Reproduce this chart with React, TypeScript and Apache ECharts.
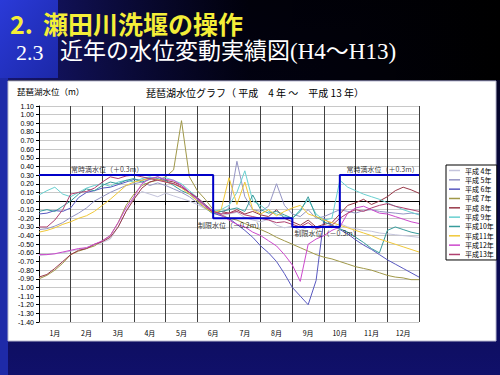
import React, { useEffect, useRef } from "react";
import * as echarts from "echarts";

const MONTH_LABELS = ["1月", "2月", "3月", "4月", "5月", "6月", "7月", "8月", "9月", "10月", "11月", "12月"];
const X_POS = [0, 0.25, 0.5, 0.75, 1, 1.25, 1.5, 1.75, 2, 2.25, 2.5, 2.75, 3, 3.25, 3.5, 3.75, 4, 4.25, 4.5, 4.75, 5, 5.25, 5.5, 5.75, 6, 6.25, 6.5, 6.75, 7, 7.25, 7.5, 7.75, 8, 8.25, 8.5, 8.75, 9, 9.25, 9.5, 9.75, 10, 10.25, 10.5, 10.75, 11, 11.25, 11.5, 11.75, 12];

const SERIES_NAMES = ["平成 4年", "平成 5年", "平成 6年", "平成 7年", "平成 8年", "平成 9年", "平成10年", "平成11年", "平成12年", "平成13年"];
const SERIES_COLORS = ["#c4c4dc", "#9494c4", "#5858c0", "#a09848", "#983848", "#68d0d0", "#389c9c", "#f0c838", "#cc48cc", "#b04070"];

const H4 = [-0.63, -0.62, -0.61, -0.60, -0.58, -0.56, -0.54, -0.51, -0.48, -0.44, -0.30, -0.12, 0.04, 0.11, 0.08, 0.05, 0.09, 0.06, 0.03, 0.00, -0.04, -0.09, -0.14, -0.17, -0.15, -0.13, -0.19, -0.22, -0.24, -0.21, -0.28, -0.31, -0.29, -0.34, -0.30, -0.33, -0.28, -0.31, -0.26, -0.30, -0.32, -0.34, -0.35, -0.37, -0.38, -0.39, -0.40, -0.41, -0.42];
const H5 = [-0.33, -0.32, -0.29, -0.25, -0.19, -0.14, -0.08, 0.00, 0.05, 0.10, 0.14, 0.18, 0.20, 0.22, 0.18, 0.21, 0.18, 0.14, 0.10, 0.05, -0.02, -0.08, -0.13, -0.15, -0.08, 0.46, 0.05, -0.10, -0.12, -0.06, 0.20, -0.05, -0.15, -0.18, -0.10, -0.20, -0.18, -0.14, -0.10, -0.12, -0.14, -0.11, -0.10, -0.12, -0.13, -0.14, -0.15, -0.14, -0.15];
const H6 = [-0.15, -0.14, -0.11, -0.12, -0.08, 0.04, 0.10, 0.12, 0.15, 0.16, 0.19, 0.22, 0.25, 0.24, 0.27, 0.26, 0.22, 0.20, 0.16, 0.10, 0.03, -0.05, -0.14, -0.17, -0.20, -0.27, -0.34, -0.42, -0.52, -0.60, -0.70, -0.84, -1.00, -1.10, -1.20, -0.92, -0.20, -0.28, -0.33, -0.38, -0.45, -0.51, -0.56, -0.62, -0.68, -0.73, -0.78, -0.83, -0.88];
const H7 = [-0.90, -0.86, -0.80, -0.72, -0.62, -0.58, -0.55, -0.52, -0.46, -0.40, -0.25, -0.05, 0.08, 0.18, 0.22, 0.24, 0.28, 0.36, 0.93, 0.28, 0.12, 0.02, -0.10, -0.16, -0.20, -0.22, -0.26, -0.30, -0.33, -0.37, -0.42, -0.46, -0.50, -0.54, -0.58, -0.62, -0.65, -0.67, -0.70, -0.73, -0.76, -0.78, -0.80, -0.83, -0.86, -0.88, -0.89, -0.91, -0.91];
const H8 = [-0.88, -0.85, -0.78, -0.70, -0.62, -0.57, -0.55, -0.50, -0.47, -0.42, -0.30, -0.12, 0.02, 0.15, 0.22, 0.25, 0.24, 0.22, 0.18, 0.10, 0.02, -0.06, -0.14, -0.12, -0.14, -0.10, -0.15, -0.12, -0.16, -0.18, -0.10, -0.20, -0.24, -0.28, -0.22, -0.30, -0.27, -0.25, -0.15, -0.05, -0.02, 0.02, -0.04, 0.00, 0.05, 0.12, 0.16, 0.13, 0.09];
const H9 = [0.07, 0.12, 0.16, 0.08, 0.05, 0.10, 0.15, 0.18, 0.20, 0.17, 0.22, 0.24, 0.22, 0.26, 0.28, 0.25, 0.27, 0.24, 0.20, 0.12, 0.04, -0.04, -0.12, -0.10, -0.05, 0.10, 0.35, 0.00, -0.05, -0.12, -0.15, -0.18, -0.20, -0.10, 0.02, -0.15, -0.22, -0.20, 0.24, 0.16, 0.12, 0.08, 0.05, 0.02, -0.02, -0.06, -0.10, -0.13, -0.16];
const H10 = [-0.12, -0.10, -0.12, -0.06, 0.00, 0.08, 0.14, 0.12, 0.18, 0.22, 0.20, 0.24, 0.26, 0.22, 0.25, 0.28, 0.24, 0.18, 0.12, 0.08, 0.00, -0.08, -0.15, -0.12, -0.10, -0.08, -0.12, 0.07, -0.10, -0.14, -0.12, -0.16, -0.20, -0.12, 0.05, -0.18, -0.24, -0.28, -0.32, -0.36, -0.42, -0.48, -0.55, -0.60, -0.34, -0.30, -0.33, -0.36, -0.38];
const H11 = [-0.36, -0.34, -0.31, -0.27, -0.24, -0.20, -0.17, -0.12, -0.05, 0.02, 0.10, 0.18, 0.22, 0.24, 0.26, 0.25, 0.22, 0.20, 0.15, 0.08, 0.00, -0.08, -0.14, -0.10, 0.27, -0.04, 0.22, -0.10, -0.15, -0.10, -0.17, -0.12, -0.08, -0.05, -0.15, -0.18, -0.22, -0.25, -0.28, -0.31, -0.34, -0.37, -0.40, -0.44, -0.47, -0.50, -0.53, -0.56, -0.59];
const H12 = [-0.62, -0.62, -0.61, -0.59, -0.57, -0.55, -0.54, -0.50, -0.46, -0.40, -0.25, -0.08, 0.05, 0.20, 0.26, 0.28, 0.25, 0.24, 0.18, 0.10, 0.02, -0.06, -0.12, -0.16, -0.22, -0.27, -0.30, -0.36, -0.40, -0.46, -0.52, -0.62, -0.74, -0.93, -0.50, -0.44, -0.40, -0.34, -0.30, -0.14, -0.08, -0.06, -0.10, -0.14, -0.15, -0.18, -0.21, -0.24, -0.26];
const H13 = [-0.30, -0.30, -0.22, -0.10, 0.08, 0.10, 0.11, 0.15, 0.22, 0.28, 0.26, 0.29, 0.30, 0.28, 0.26, 0.24, 0.22, 0.20, 0.16, 0.10, 0.04, -0.04, -0.12, -0.15, -0.14, -0.12, -0.16, -0.18, -0.20, -0.22, -0.25, -0.24, -0.27, -0.30, -0.25, -0.32, -0.30, -0.28, -0.20, -0.14, -0.10, -0.12, -0.08, -0.05, -0.03, -0.06, -0.08, -0.10, -0.12];
const SERIES_VALUES = [H4, H5, H6, H7, H8, H9, H10, H11, H12, H13];

const RULE_X = [0, 5.5, 5.5, 8, 8, 9.5, 9.5, 12];
const RULE_Y = [0.3, 0.3, -0.2, -0.2, -0.3, -0.3, 0.3, 0.3];

const NOTE_TEXT = ["常時満水位（＋0.3m）", "制限水位（－0.2m）", "制限水位（－0.3m）", "常時満水位（＋0.3m）"];
const NOTE_X = [2.15, 6.05, 9.1, 10.85];
const NOTE_Y = [0.3, -0.2, -0.3, 0.3];
const NOTE_POS = ["top", "bottom", "bottom", "top"];

const Y_TICK_LABEL = (v: number) => v.toFixed(2);

const JP = "'Noto Sans CJK JP', 'Noto Sans', sans-serif";

export default function App() {
  const ref = useRef<HTMLDivElement>(null);
  useEffect(() => {
    if (!ref.current) return;
    const chart = echarts.init(ref.current, undefined, { renderer: "svg" });
    const lineSeries = SERIES_NAMES.map((name, k) => ({
      name,
      type: "line",
      xAxisIndex: 0,
      yAxisIndex: 0,
      symbol: "none",
      color: SERIES_COLORS[k],
      lineStyle: { width: 1, color: SERIES_COLORS[k] },
      data: X_POS.map((x, i) => [x, SERIES_VALUES[k][i]]),
      z: 3,
    }));
    const option: any = {
      animation: false,
      textStyle: { fontFamily: JP },
      graphic: [
        {
          type: "rect",
          shape: { x: 0, y: 0, width: 500, height: 375 },
          style: {
            fill: new echarts.graphic.LinearGradient(0, 0, 0, 1, [
              { offset: 0, color: "#020210" },
              { offset: 0.5, color: "#080840" },
              { offset: 1, color: "#10106a" },
            ]),
          },
          z: -10,
        },
        {
          type: "rect",
          shape: { x: 0, y: 0, width: 500, height: 80 },
          style: {
            fill: new echarts.graphic.LinearGradient(0, 0, 1, 0, [
              { offset: 0, color: "rgba(24,24,120,0.95)" },
              { offset: 0.5, color: "rgba(0,0,8,0.7)" },
              { offset: 1, color: "rgba(0,0,0,1)" },
            ]),
          },
          z: -9,
        },
        {
          type: "rect",
          shape: { x: 0, y: 0, width: 58, height: 78 },
          style: {
            fill: new echarts.graphic.LinearGradient(0, 0, 1, 1, [
              { offset: 0, color: "#2a3ad8" },
              { offset: 1, color: "#1c28a8" },
            ]),
          },
          z: -8,
        },
        {
          type: "rect",
          shape: { x: 0, y: 78, width: 8, height: 297 },
          style: { fill: "#1e2aa8" },
          z: -8,
        },
        {
          type: "rect",
          shape: { x: 8, y: 81, width: 488, height: 260 },
          style: { fill: "#ffffff", stroke: "#b8b8d0", lineWidth: 1 },
          z: -5,
        },
        {
          type: "text",
          x: 10,
          y: 23,
          style: { text: "2.", fill: "#f4ee38", font: `bold 25px ${JP}`, textVerticalAlign: "middle" },
        },
        {
          type: "text",
          x: 43,
          y: 23,
          style: { text: "瀬田川洗堰の操作", fill: "#f4ee38", font: `bold 25px ${JP}`, textVerticalAlign: "middle" },
        },
        {
          type: "text",
          x: 16,
          y: 52,
          style: { text: "2.3", fill: "#ffffff", font: "22px 'Liberation Serif', serif", textVerticalAlign: "middle" },
        },
        {
          type: "text",
          x: 60,
          y: 51,
          style: {
            text: "近年の水位変動実績図(H4～H13)",
            fill: "#ffffff",
            font: `23px 'Liberation Serif', 'Noto Sans CJK JP', serif`,
            textVerticalAlign: "middle",
          },
        },
        {
          type: "text",
          x: 17,
          y: 91,
          style: { text: "琵琶湖水位（m）", fill: "#000", font: `8.5px ${JP}`, textVerticalAlign: "middle" },
        },
        {
          type: "text",
          x: 255,
          y: 92,
          style: {
            text: "琵琶湖水位グラフ（ 平成　4 年 ～　平成 13 年）",
            fill: "#000",
            font: `10px ${JP}`,
            textAlign: "center",
            textVerticalAlign: "middle",
          },
        },
      ],
      grid: { left: 39, top: 106, right: 81, bottom: 53, containLabel: false },
      legend: {
        data: SERIES_NAMES,
        orient: "vertical",
        left: 446,
        top: 165,
        icon: "rect",
        itemWidth: 11,
        itemHeight: 1.5,
        itemGap: 2.33,
        padding: [2, 3, 2, 3],
        borderColor: "#000",
        borderWidth: 1,
        backgroundColor: "#fff",
        textStyle: { fontSize: 7, color: "#000", lineHeight: 7, fontFamily: JP },
      },
      xAxis: [
        {
          type: "value",
          min: 0,
          max: 12,
          interval: 1,
          axisLabel: { show: false },
          axisLine: { show: true, lineStyle: { color: "#000", width: 1 } },
          axisTick: { show: true, length: 4, lineStyle: { color: "#000" } },
          splitLine: { show: true, lineStyle: { color: "#404040", width: 1 } },
        },
        {
          type: "category",
          data: MONTH_LABELS,
          boundaryGap: true,
          position: "bottom",
          axisLine: { show: false },
          axisTick: { show: false },
          splitLine: { show: false },
          axisLabel: { fontSize: 7, color: "#000", margin: 7, fontFamily: JP },
        },
      ],
      yAxis: {
        type: "value",
        min: -1.4,
        max: 1.1,
        interval: 0.1,
        axisLine: { show: true, lineStyle: { color: "#000", width: 1 } },
        axisTick: { show: true, length: 3, lineStyle: { color: "#000" } },
        splitLine: { show: true, lineStyle: { color: "#c8c8c8", width: 1 } },
        axisLabel: { fontSize: 7, color: "#000", margin: 5, formatter: Y_TICK_LABEL, fontFamily: "'Liberation Sans', sans-serif" },
      },
      series: [
        ...lineSeries,
        {
          name: "rule",
          type: "line",
          symbol: "none",
          data: RULE_X.map((x, i) => [x, RULE_Y[i]]),
          lineStyle: { width: 2, color: "#0000c8" },
          color: "#0000c8",
          z: 5,
        },
        {
          name: "notes",
          type: "scatter",
          symbolSize: 0,
          data: NOTE_X.map((x, i) => ({
            value: [x, NOTE_Y[i]],
            label: { position: NOTE_POS[i] },
          })),
          label: {
            show: true,
            fontSize: 7,
            color: "#000",
            distance: 3,
            fontFamily: JP,
            formatter: (p: any) => NOTE_TEXT[p.dataIndex],
          },
          z: 6,
        },
      ],
    };
    chart.setOption(option);
    return () => chart.dispose();
  }, []);
  return <div ref={ref} style={{ position: "absolute", left: 0, top: 0, width: 500, height: 375 }} />;
}
